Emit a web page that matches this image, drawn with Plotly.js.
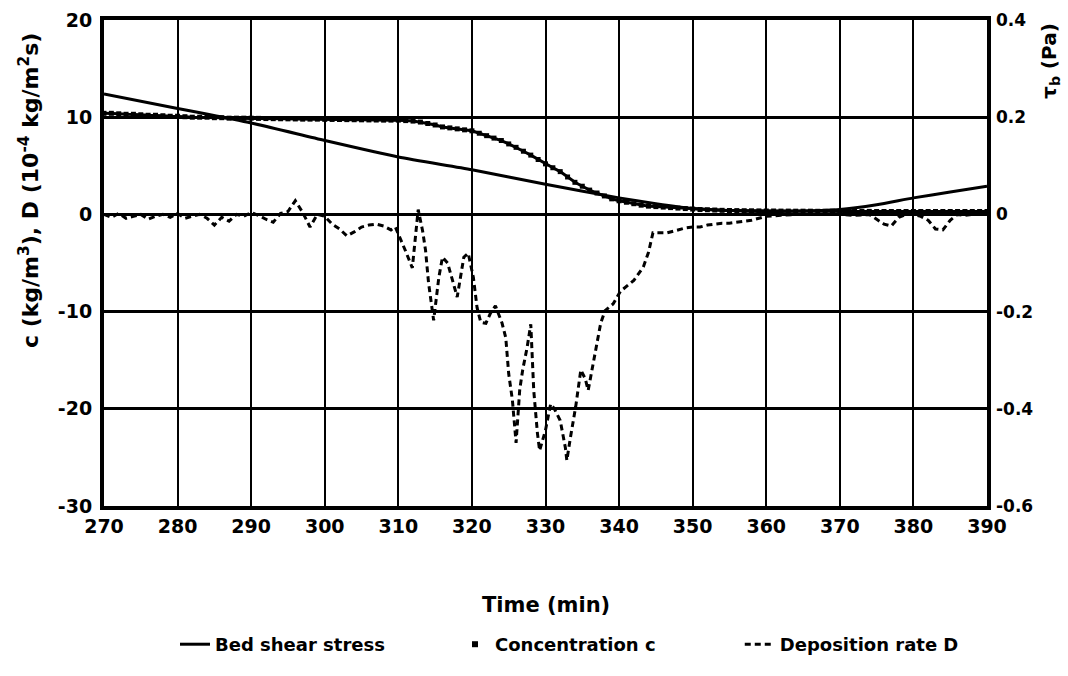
<!DOCTYPE html>
<html>
<head>
<meta charset="utf-8">
<script src="https://cdn.plot.ly/plotly-3.0.1.min.js"></script>
<style>html,body{margin:0;padding:0;background:#fff;}#chart{width:1068px;height:676px;}</style>
</head>
<body>
<div id="chart"></div>
<script>
// Bed shear stress (Pa), right axis
const tauTime = [270,280,290,300,310,320,330,340,345,350,355,360,365,370,375,380,385,390];
const tauVal  = [0.248,0.218,0.188,0.152,0.118,0.092,0.062,0.034,0.022,0.012,0.008,0.006,0.007,0.010,0.020,0.034,0.046,0.058];

// Concentration c (kg/m3), 1-min samples 270..390
const cTime = [];
for (let t = 270; t <= 390; t++) cTime.push(t);
const cVal = [
 10.4,10.4,10.35,10.3,10.3,10.25,10.2,10.2,10.15,10.1,
 10.1,10.05,10.0,10.0,10.0,9.95,9.95,9.9,9.9,9.9,
 9.9,9.88,9.86,9.85,9.84,9.83,9.82,9.8,9.8,9.8,
 9.78,9.77,9.76,9.75,9.74,9.73,9.72,9.71,9.7,9.7,
 9.7,9.65,9.6,9.5,9.35,9.2,9.0,8.9,8.8,8.7,
 8.6,8.35,8.1,7.85,7.6,7.25,6.9,6.5,6.1,5.65,
 5.2,4.8,4.4,3.85,3.3,2.9,2.5,2.2,1.9,1.6,
 1.4,1.25,1.1,0.95,0.85,0.8,0.75,0.7,0.65,0.6,
 0.55,0.5,0.48,0.45,0.42,0.4,0.39,0.38,0.37,0.36,
 0.35,0.35,0.34,0.34,0.33,0.33,0.33,0.32,0.32,0.32,
 0.32,0.31,0.31,0.31,0.31,0.3,0.3,0.3,0.3,0.3,
 0.3,0.3,0.3,0.3,0.3,0.3,0.3,0.3,0.3,0.3,
 0.3
];

// Deposition rate D (1e-4 kg/m2s)
const dTime = [270,271,272,273,274,275,276,277,278,279,280,281,282,283,284,285,286,287,288,289,
 290,291,292,293,294,295,296,297,298,299,300,301,302,303,304,305,306,307,308,309,
 309.6,310.3,311,311.9,312.7,313.3,313.7,314.1,314.8,315.5,316,316.7,317.4,318,318.9,319.5,
 320.2,320.7,321.2,321.9,322.5,323.2,324.1,324.6,325,325.5,326,326.5,326.9,327.5,328,328.4,
 328.9,329.2,330,330.7,331.2,332,332.7,332.9,333.4,334.1,334.8,335.4,335.8,336.8,337.5,338.1,
 339.2,340.2,342,343.3,344,344.6,345.5,346.5,348,349,350,351,352,353,354,355,356,357,358,359,
 360,362,364,366,368,370,372,374,375,376,377,378,379,380,381,382,383,384,385,386,387,388,389,390];
const dVal = [0,-0.3,0.1,-0.4,-0.2,0,-0.5,-0.2,0,-0.3,0.1,-0.4,-0.2,0,-0.4,-1.1,-0.3,-0.7,0,-0.2,
 0.2,-0.1,-0.5,-0.8,0.1,0.3,1.4,0.2,-1.3,0,-0.2,-1.0,-1.5,-2.2,-1.8,-1.3,-1.1,-1.0,-1.2,-1.6,
 -1.3,-2.5,-3.8,-5.5,0.5,-1.7,-3.7,-7.0,-10.9,-6.5,-4.4,-5.0,-6.8,-8.5,-4.4,-4.0,
 -6.5,-9.6,-11.1,-11.2,-10.2,-9.4,-11.2,-12.7,-16.4,-19.1,-23.5,-18.0,-16.0,-13.7,-11.3,-18.1,
 -22.5,-24.3,-22.2,-19.5,-20.0,-21.2,-24.0,-25.3,-22.9,-19.8,-16.0,-16.9,-18.1,-14.0,-11.2,-9.9,
 -9.2,-7.9,-6.8,-5.4,-3.9,-1.9,-1.9,-1.9,-1.6,-1.4,-1.3,-1.3,-1.1,-1.0,-0.9,-0.9,-0.8,-0.7,-0.6,-0.4,
 -0.2,-0.1,0,0,0,0,-0.1,0,-0.5,-1.0,-1.2,-0.3,0,0,-0.2,-0.6,-1.5,-1.6,-0.6,0,-0.1,0,0,0];

// Tick labels
const xTicks = [270,280,290,300,310,320,330,340,350,360,370,380,390];
const yTicks = [20,10,0,-10,-20,-30];
const yTickText = ['20','10','0','-10','-20','-30'];
const y2Ticks = [0.4,0.2,0,-0.2,-0.4,-0.6];
const y2TickText = ['0.4','0.2','0','-0.2','-0.4','-0.6'];

const F = 'DejaVu Sans';
const traces = [
  {x: tauTime, y: tauVal, yaxis: 'y2', mode: 'lines', line: {color: '#000', width: 3, shape: 'spline', smoothing: 0.6}, name: 'Bed shear stress', legend: 'legend'},
  {x: cTime, y: cVal, mode: 'lines+markers', line: {color: '#000', width: 3}, marker: {symbol: 'square', size: 5, color: '#000'}, showlegend: false, name: 'Concentration c'},
  {x: [null], y: [null], mode: 'markers', marker: {symbol: 'square', size: 6, color: '#000'}, name: 'Concentration c', legend: 'legend2'},
  {x: dTime, y: dVal, mode: 'lines', line: {color: '#000', width: 3, dash: '6px,4px'}, name: 'Deposition rate D', legend: 'legend3'}
];

const legFont = {family: F, size: 18, weight: 'bold'};
const layout = {
  width: 1068, height: 676,
  margin: {l: 104, r: 81, t: 20, b: 170},
  paper_bgcolor: '#fff', plot_bgcolor: '#fff',
  showlegend: true,
  font: {family: F, color: '#000', size: 18, weight: 'bold'},
  xaxis: {range: [270, 390], tickvals: xTicks, showgrid: true, gridcolor: '#000', gridwidth: 2,
          showline: true, linecolor: '#000', linewidth: 4, mirror: true, zeroline: false,
          ticks: '', ticklabelstandoff: 0, tickfont: {family: F, size: 19, weight: 'bold'}},
  yaxis: {range: [-30, 20], tickvals: yTicks, ticktext: yTickText, showgrid: true, gridcolor: '#000', gridwidth: 3,
          showline: true, linecolor: '#000', linewidth: 4, mirror: true, zeroline: false,
          ticks: '', ticklabelstandoff: 4, tickfont: {family: F, size: 19, weight: 'bold'}},
  yaxis2: {range: [-0.6, 0.4], tickvals: y2Ticks, ticktext: y2TickText, overlaying: 'y', side: 'right',
           showgrid: false, zeroline: false, showline: false, ticks: '', ticklabelstandoff: 8,
           tickfont: {family: F, size: 17, weight: 'bold'}},
  legend:  {orientation: 'h', x: 0.0804, xanchor: 'left', y: -0.285, yanchor: 'middle', font: legFont, bgcolor: 'rgba(0,0,0,0)'},
  legend2: {orientation: 'h', x: 0.3975, xanchor: 'left', y: -0.285, yanchor: 'middle', font: legFont, bgcolor: 'rgba(0,0,0,0)'},
  legend3: {orientation: 'h', x: 0.720, xanchor: 'left', y: -0.285, yanchor: 'middle', font: legFont, bgcolor: 'rgba(0,0,0,0)'},
  annotations: [
    {text: 'c (kg/m<sup>3</sup>), D (10<sup>-4</sup> kg/m<sup>2</sup>s)', xref: 'paper', yref: 'paper',
     x: -0.085, y: 0.65, xanchor: 'center', yanchor: 'middle', textangle: -90, showarrow: false,
     font: {family: F, size: 22, weight: 'bold'}},
    {text: 'τ<sub>b</sub> (Pa)', xref: 'paper', yref: 'paper', x: 1.072, y: 0.915,
     xanchor: 'center', yanchor: 'middle', textangle: -90, showarrow: false,
     font: {family: F, size: 20, weight: 'bold'}},
    {text: 'Time (min)', xref: 'paper', yref: 'paper', x: 0.5, y: -0.204,
     xanchor: 'center', yanchor: 'middle', showarrow: false, font: {family: F, size: 21, weight: 'bold'}}
  ]
};

Plotly.newPlot('chart', traces, layout, {displayModeBar: false, staticPlot: true});
</script>
</body>
</html>
